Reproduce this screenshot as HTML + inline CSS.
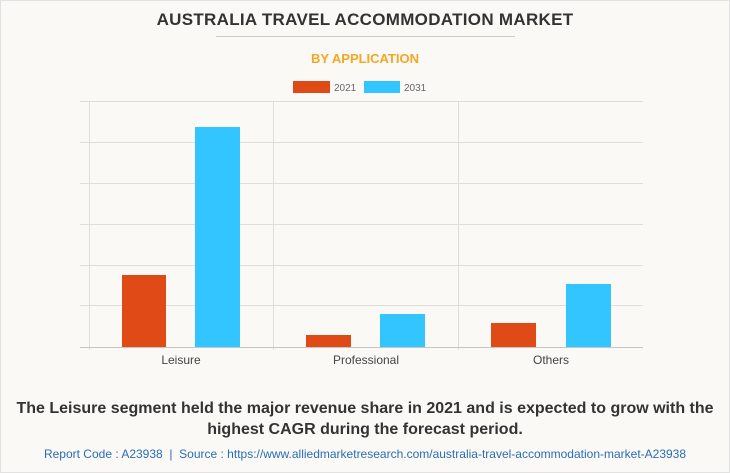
<!DOCTYPE html>
<html><head><style>
body{margin:0;width:730px;height:473px;background:#fff;font-family:"Liberation Sans",sans-serif;}
.wrap{position:absolute;left:0;top:0;width:728px;height:471px;border:1px solid #e2e2e2;background:#faf9f5;}
.t{position:absolute;left:0;width:730px;text-align:center;}
</style></head><body>
<div class="wrap"></div>
<div class="t" style="top:10px;font-size:17px;font-weight:bold;color:#333;letter-spacing:0.3px">AUSTRALIA TRAVEL ACCOMMODATION MARKET</div>
<div style="position:absolute;left:216px;top:36px;width:299px;height:1px;background:#ccc"></div>
<div class="t" style="top:51px;font-size:13px;font-weight:bold;color:#f5a623">BY APPLICATION</div>
<svg style="position:absolute;left:0;top:0" width="730" height="473">
<rect x="293" y="81" width="37" height="12" fill="#e04a16"/>
<text x="334" y="91" font-size="10" fill="#666" font-family="Liberation Sans">2021</text>
<rect x="364" y="81" width="36" height="12" fill="#33c5ff"/>
<text x="404" y="91" font-size="10" fill="#666" font-family="Liberation Sans">2031</text>
<g stroke="#e0dedb" stroke-width="1">
<line x1="80" x2="643" y1="101.5" y2="101.5"/><line x1="80" x2="643" y1="142.5" y2="142.5"/>
<line x1="80" x2="643" y1="183.5" y2="183.5"/><line x1="80" x2="643" y1="224.5" y2="224.5"/>
<line x1="80" x2="643" y1="265.5" y2="265.5"/><line x1="80" x2="643" y1="305.5" y2="305.5"/>
<line x1="89.5" x2="89.5" y1="101" y2="350"/><line x1="273.5" x2="273.5" y1="101" y2="350"/>
<line x1="458.5" x2="458.5" y1="101" y2="350"/>
</g>
<line x1="80" x2="643" y1="347.5" y2="347.5" stroke="#c8c6c3"/>
<rect x="122" y="275" width="44" height="72" fill="#e04a16"/>
<rect x="195" y="127" width="45" height="220" fill="#33c5ff"/>
<rect x="306" y="335" width="45" height="12" fill="#e04a16"/>
<rect x="380" y="314" width="45" height="33" fill="#33c5ff"/>
<rect x="491" y="323" width="45" height="24" fill="#e04a16"/>
<rect x="566" y="284" width="45" height="63" fill="#33c5ff"/>
<g font-size="12" fill="#444" font-family="Liberation Sans" text-anchor="middle">
<text x="181" y="364">Leisure</text><text x="366" y="364">Professional</text><text x="551" y="364">Others</text>
</g>
</svg>
<div class="t" style="top:398px;font-size:16px;font-weight:bold;color:#333;line-height:21px">The Leisure segment held the major revenue share in 2021 and is expected to grow with the<br>highest CAGR during the forecast period.</div>
<div class="t" style="top:447px;font-size:12px;color:#2a6db5">Report Code : A23938 &nbsp;|&nbsp; Source : https://www.alliedmarketresearch.com/australia-travel-accommodation-market-A23938</div>
</body></html>
